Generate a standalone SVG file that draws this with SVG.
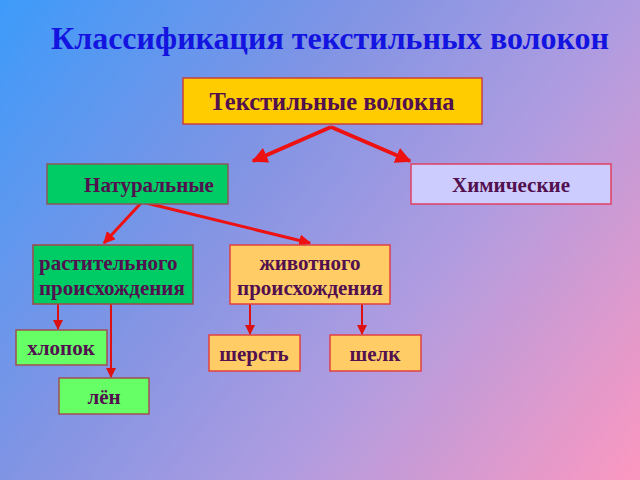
<svg xmlns="http://www.w3.org/2000/svg" width="640" height="480" viewBox="0 0 640 480">
<defs>
<linearGradient id="bg" gradientUnits="userSpaceOnUse" x1="0" y1="0" x2="640" y2="480">
<stop offset="0" stop-color="#3d9bfa"/>
<stop offset="0.36" stop-color="#8094e4"/>
<stop offset="0.64" stop-color="#b09ce0"/>
<stop offset="1" stop-color="#fc98c0"/>
</linearGradient>
<marker id="ah" viewBox="0 0 10 10" refX="9" refY="5" markerWidth="4" markerHeight="4" orient="auto" markerUnits="strokeWidth">
<path d="M0,0 L10,5 L0,10 z" fill="#ee1111"/>
</marker>
<marker id="ahs" viewBox="0 0 10 10" refX="9" refY="5" markerWidth="5" markerHeight="5" orient="auto" markerUnits="strokeWidth">
<path d="M0,0 L10,5 L0,10 z" fill="#dd1111"/>
</marker>
</defs>
<style>
text{font-family:"Liberation Serif","DejaVu Serif",serif;font-weight:bold;fill:#52104e;font-size:21px;}
.c{text-anchor:middle;}
.title{fill:#1414e0;font-size:32px;}
.head{font-size:24.5px;}
.big{stroke-width:4;stroke:#ee1111;fill:none;}
.mid{stroke-width:3;stroke:#ee1111;fill:none;}
.thin{stroke-width:2;stroke:#dd1111;fill:none;}
</style>
<rect width="640" height="480" fill="url(#bg)"/>
<text class="title c" x="330" y="49">Классификация текстильных волокон</text>

<g id="connectors">
<line class="big" x1="331" y1="127" x2="253" y2="161" marker-end="url(#ah)"/>
<line class="big" x1="331" y1="127" x2="410" y2="161" marker-end="url(#ah)"/>
<line class="mid" x1="142" y1="202" x2="104" y2="243" marker-end="url(#ah)"/>
<line class="mid" x1="142" y1="202" x2="310" y2="243" marker-end="url(#ah)"/>
<line class="thin" x1="58" y1="304" x2="58" y2="329" marker-end="url(#ahs)"/>
<line class="thin" x1="111" y1="304" x2="111" y2="377" marker-end="url(#ahs)"/>
<line class="thin" x1="250" y1="304" x2="250" y2="334" marker-end="url(#ahs)"/>
<line class="thin" x1="362" y1="304" x2="362" y2="334" marker-end="url(#ahs)"/>
</g>

<g id="textile">
<rect x="183" y="78" width="299" height="46" fill="#ffcc00" stroke="#c84040" stroke-width="1.5"/>
<text class="c head" x="332" y="110">Текстильные волокна</text>
</g>
<g id="natural">
<rect x="47" y="164" width="181" height="40" fill="#00cc66" stroke="#8a5858" stroke-width="1.5"/>
<text class="c" x="149" y="192">Натуральные</text>
</g>
<g id="chemical">
<rect x="411" y="164" width="200" height="40" fill="#ccccff" stroke="#e04060" stroke-width="1.5"/>
<text class="c" x="511" y="192">Химические</text>
</g>
<g id="plant">
<rect x="33" y="245" width="160" height="59" fill="#00cc66" stroke="#a04848" stroke-width="1.5"/>
<text x="39" y="270">растительного</text>
<text x="39" y="295">происхождения</text>
</g>
<g id="animal">
<rect x="230" y="245" width="160" height="59" fill="#ffcc66" stroke="#e04040" stroke-width="1.5"/>
<text class="c" x="310" y="270">животного</text>
<text class="c" x="310" y="295">происхождения</text>
</g>
<g id="cotton">
<rect x="16" y="330" width="91" height="35" fill="#66ff66" stroke="#a05050" stroke-width="1.5"/>
<text class="c" x="61" y="355">хлопок</text>
</g>
<g id="flax">
<rect x="59" y="378" width="90" height="36" fill="#66ff66" stroke="#a05050" stroke-width="1.5"/>
<text class="c" x="104" y="404">лён</text>
</g>
<g id="wool">
<rect x="209" y="335" width="91" height="36" fill="#ffcc66" stroke="#e04040" stroke-width="1.5"/>
<text class="c" x="254" y="361">шерсть</text>
</g>
<g id="silk">
<rect x="330" y="335" width="91" height="36" fill="#ffcc66" stroke="#e04040" stroke-width="1.5"/>
<text class="c" x="375" y="361">шелк</text>
</g>
</svg>
